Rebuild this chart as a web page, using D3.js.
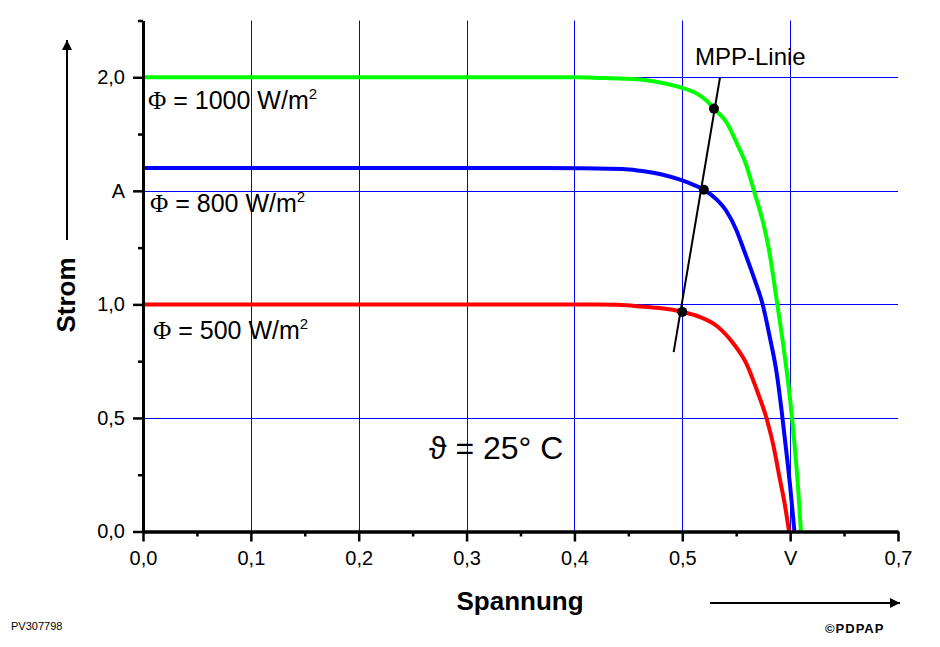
<!DOCTYPE html>
<html lang="de">
  <head>
    <meta charset="UTF-8" />
    <title>Solarzelle Kennlinien</title>
    <script src="https://cdn.jsdelivr.net/npm/d3@7"></script>
    <style>
      html,
      body {
        margin: 0;
        padding: 0;
        background: #fff;
      }
      svg {
        display: block;
        font-family: Arial, 'Liberation Sans', sans-serif;
      }
      .tick text {
        font-size: 20px;
      }
    </style>
  </head>
  <body>
    <svg width="940" height="647"></svg>
    <script>
      // values (Spannung in V, Strom in A)
      const xTicks = [0, 0.1, 0.2, 0.3, 0.4, 0.5, 0.6, 0.7];
      const xTickLabels = ['0,0', '0,1', '0,2', '0,3', '0,4', '0,5', 'V', '0,7'];
      const xMinor = [0.05, 0.15, 0.25, 0.35, 0.45, 0.55, 0.65];
      const yTicks = [0, 0.5, 1.0, 1.5, 2.0];
      const yTickLabels = ['0,0', '0,5', '1,0', 'A', '2,0'];
      const yMinor = [0.25, 0.75, 1.25, 1.75, 2.25];

      const u500 = [0, 0.42, 0.44, 0.461, 0.482, 0.491, 0.5, 0.516, 0.532, 0.547, 0.56, 0.569, 0.578, 0.584, 0.59, 0.595, 0.599];
      const i500 = [1.0, 1.0, 0.998, 0.991, 0.982, 0.976, 0.967, 0.945, 0.905, 0.83, 0.734, 0.624, 0.5, 0.389, 0.242, 0.12, 0];

      const u800 = [0, 0.37, 0.445, 0.461, 0.482, 0.498, 0.51, 0.52, 0.532, 0.541, 0.55, 0.557, 0.566, 0.575, 0.581, 0.5875, 0.592, 0.597, 0.6, 0.604];
      const i800 = [1.6, 1.6, 1.596, 1.588, 1.571, 1.549, 1.527, 1.505, 1.461, 1.41, 1.329, 1.241, 1.123, 0.991, 0.859, 0.698, 0.536, 0.33, 0.2, 0];

      const u1000 = [0, 0.4, 0.425, 0.445, 0.461, 0.482, 0.498, 0.514, 0.523, 0.5294, 0.541, 0.5504, 0.5597, 0.567, 0.575, 0.58, 0.5875, 0.5952, 0.6, 0.6045, 0.6075, 0.61];
      const i1000 = [2.0, 2.0, 1.997, 1.994, 1.99, 1.975, 1.956, 1.927, 1.895, 1.862, 1.802, 1.711, 1.608, 1.491, 1.359, 1.25, 1.02, 0.765, 0.58, 0.36, 0.184, 0];

      const mppU = [0.5, 0.52, 0.5294];
      const mppI = [0.967, 1.505, 1.862];
      const mppLineU = [0.492, 0.535];
      const mppLineI = [0.79, 2.0];

      const series = [
        { u: u1000, i: i1000, color: '#00ff00' },
        { u: u800, i: i800, color: '#0000ff' },
        { u: u500, i: i500, color: '#ff0000' },
      ];

      const svg = d3.select('svg');
      const plotLeft = 143,
        plotRight = 898,
        plotTop = 20.5,
        plotBottom = 531.5;

      const x = d3.scaleLinear().domain([0, 0.7]).range([plotLeft, plotRight]);
      const y = d3.scaleLinear().domain([0, 2.25]).range([plotBottom, plotTop]);

      // grid
      const grid = svg.append('g').attr('stroke', '#0000ff').attr('stroke-width', 1);
      grid
        .selectAll('line.v')
        .data(xTicks.slice(1, 7))
        .enter()
        .append('line')
        .attr('class', 'v')
        .attr('x1', d => Math.round(x(d)) + 0.5)
        .attr('x2', d => Math.round(x(d)) + 0.5)
        .attr('y1', y(2.25))
        .attr('y2', y(0));
      grid
        .selectAll('line.h')
        .data(yTicks.slice(1))
        .enter()
        .append('line')
        .attr('class', 'h')
        .attr('x1', x(0))
        .attr('x2', x(0.7))
        .attr('y1', d => Math.round(y(d)) + 0.5)
        .attr('y2', d => Math.round(y(d)) + 0.5);

      // curves
      const line = d3
        .line()
        .x(d => x(d[0]))
        .y(d => y(d[1]))
        .curve(d3.curveMonotoneX);

      svg
        .selectAll('path.curve')
        .data(series)
        .enter()
        .append('path')
        .attr('class', 'curve')
        .attr('fill', 'none')
        .attr('stroke', d => d.color)
        .attr('stroke-width', 4)
        .attr('d', d => line(d.u.map((v, k) => [v, d.i[k]])));

      // MPP-Linie
      svg
        .append('line')
        .attr('x1', x(mppLineU[0]))
        .attr('y1', y(mppLineI[0]))
        .attr('x2', x(mppLineU[1]))
        .attr('y2', y(mppLineI[1]))
        .attr('stroke', '#000')
        .attr('stroke-width', 2);

      svg
        .selectAll('circle')
        .data(mppU)
        .enter()
        .append('circle')
        .attr('cx', d => x(d))
        .attr('cy', (d, k) => y(mppI[k]))
        .attr('r', 5)
        .attr('fill', '#000');

      // axes
      const yAxis = d3
        .axisLeft(y)
        .tickValues(yTicks)
        .tickSize(10)
        .tickSizeOuter(0)
        .tickPadding(8)
        .tickFormat((d, k) => yTickLabels[k]);
      const yAxisMinor = d3.axisLeft(y).tickValues(yMinor).tickSize(5).tickSizeOuter(0).tickFormat('');
      const xAxis = d3
        .axisBottom(x)
        .tickValues(xTicks)
        .tickSize(10)
        .tickSizeOuter(0)
        .tickPadding(9)
        .tickFormat((d, k) => xTickLabels[k]);
      const xAxisMinor = d3.axisBottom(x).tickValues(xMinor).tickSize(5).tickSizeOuter(0).tickFormat('');

      svg.append('g').attr('transform', `translate(${plotLeft},0)`).call(yAxisMinor);
      svg.append('g').attr('transform', `translate(${plotLeft},0)`).call(yAxis);
      svg.append('g').attr('transform', `translate(0,${plotBottom})`).call(xAxisMinor);
      svg.append('g').attr('transform', `translate(0,${plotBottom})`).call(xAxis);

      svg.selectAll('.domain').attr('stroke', '#000').attr('stroke-width', 3);
      svg.selectAll('.tick line').attr('stroke', '#000').attr('stroke-width', 2.5);
      svg
        .selectAll('.tick text')
        .attr('fill', '#000')
        .attr('font-size', 20)
        .attr('font-family', "Arial, 'Liberation Sans', sans-serif");

      // labels
      const phiLabels = [
        { txt: '1000', xp: 148, yp: 109 },
        { txt: '800', xp: 150, yp: 212 },
        { txt: '500', xp: 153, yp: 339 },
      ];
      phiLabels.forEach(p => {
        const t = svg.append('text').attr('x', p.xp).attr('y', p.yp).style('font-size', '25px');
        t.append('tspan').attr('font-family', "'Liberation Serif', 'DejaVu Serif', serif").text('Φ');
        t.append('tspan').text(' = ' + p.txt + ' W/m');
        t.append('tspan').attr('dy', -10).style('font-size', '15px').text('2');
      });

      svg
        .append('text')
        .attr('x', 429)
        .attr('y', 459)
        .style('font-size', '32px')
        .text('ϑ = 25° C');

      svg.append('text').attr('x', 695).attr('y', 65).style('font-size', '24px').text('MPP-Linie');

      svg
        .append('text')
        .attr('x', 520)
        .attr('y', 610)
        .attr('text-anchor', 'middle')
        .style('font-size', '26px')
        .style('font-weight', 'bold')
        .text('Spannung');

      svg
        .append('text')
        .attr('transform', 'translate(75,295) rotate(-90)')
        .attr('text-anchor', 'middle')
        .style('font-size', '26px')
        .style('font-weight', 'bold')
        .text('Strom');

      // arrows
      const defs = svg.append('defs');
      defs
        .append('marker')
        .attr('id', 'arr')
        .attr('viewBox', '0 0 10 10')
        .attr('refX', 10)
        .attr('refY', 5)
        .attr('markerWidth', 14)
        .attr('markerHeight', 10)
        .attr('markerUnits', 'userSpaceOnUse')
        .attr('orient', 'auto')
        .append('path')
        .attr('d', 'M0,0L10,5L0,10Z')
        .attr('fill', '#000');

      svg
        .append('line')
        .attr('x1', 67)
        .attr('y1', 240)
        .attr('x2', 67)
        .attr('y2', 40)
        .attr('stroke', '#000')
        .attr('stroke-width', 2)
        .attr('marker-end', 'url(#arr)');

      svg
        .append('line')
        .attr('x1', 710)
        .attr('y1', 603)
        .attr('x2', 900)
        .attr('y2', 603)
        .attr('stroke', '#000')
        .attr('stroke-width', 2)
        .attr('marker-end', 'url(#arr)');

      svg.append('text').attr('x', 11).attr('y', 630).style('font-size', '11px').text('PV307798');
      svg
        .append('text')
        .attr('x', 825)
        .attr('y', 633)
        .style('font-size', '13px')
        .style('font-weight', 'bold')
        .style('letter-spacing', '1px')
        .text('©PDPAP');
    </script>
  </body>
</html>
